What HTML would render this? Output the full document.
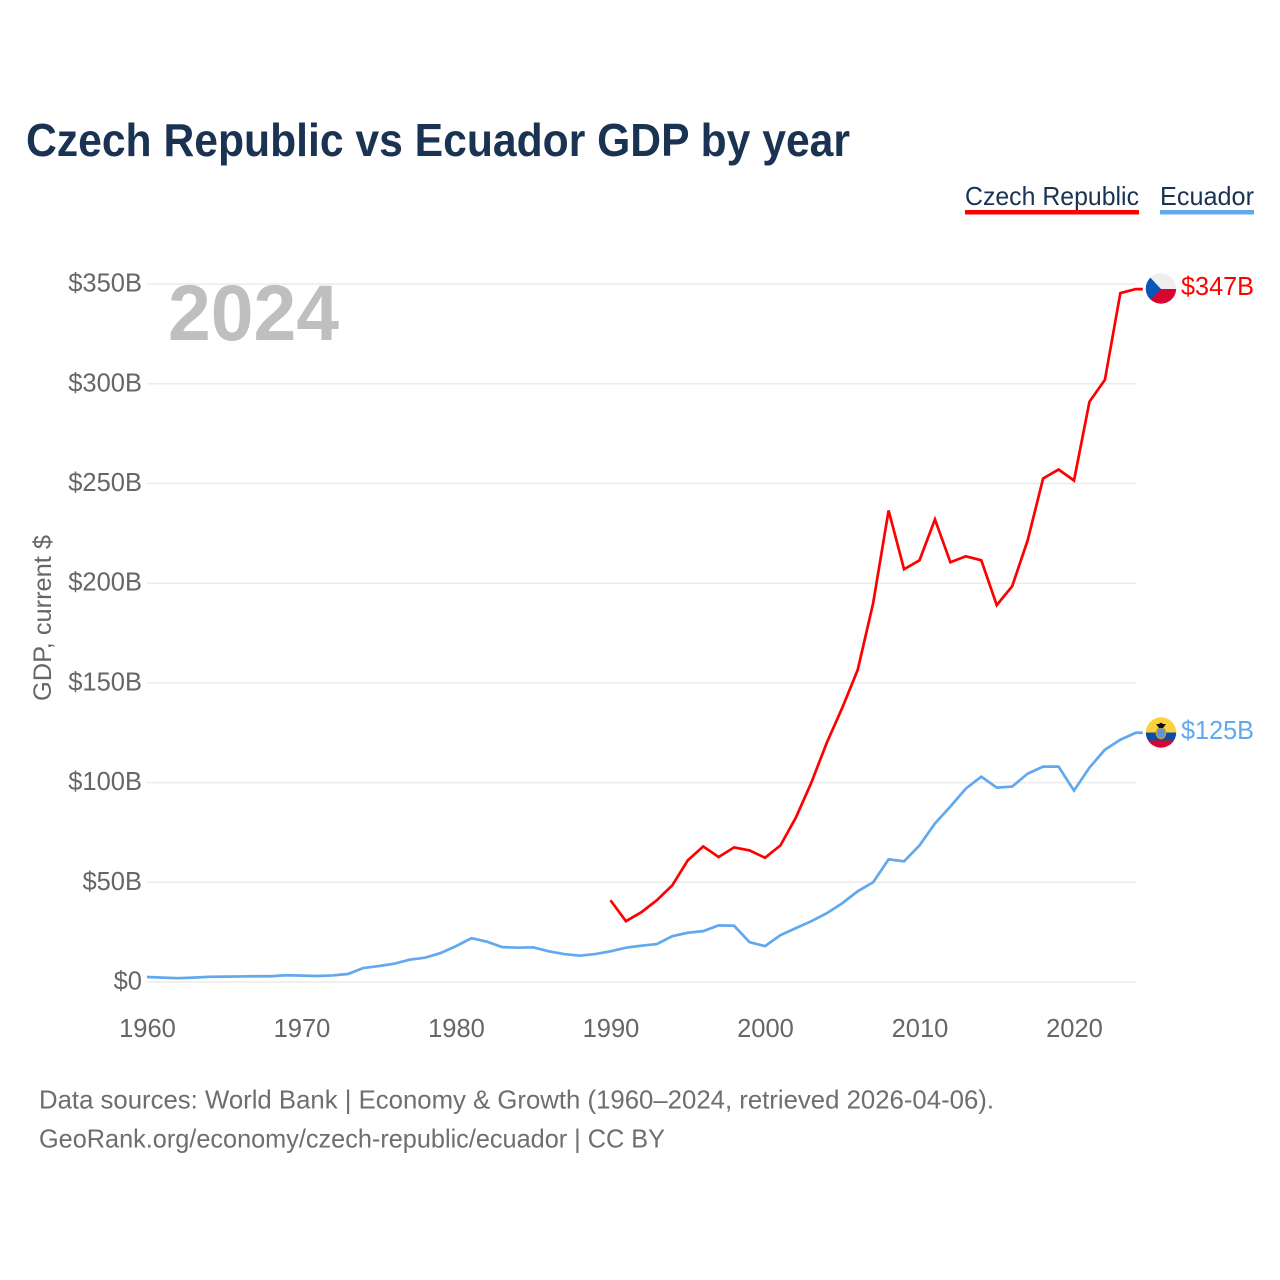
<!DOCTYPE html>
<html>
<head>
<meta charset="utf-8">
<title>Czech Republic vs Ecuador GDP by year</title>
<style>
html,body{margin:0;padding:0;background:#fff;}
svg{display:block;font-family:"Liberation Sans",sans-serif;}
</style>
</head>
<body>
<svg id="chart" width="1280" height="1280" viewBox="0 0 1280 1280" xmlns="http://www.w3.org/2000/svg">
  <defs>
    <clipPath id="flag-clip-cz"><circle cx="1161" cy="288.5" r="15.2"/></clipPath>
    <clipPath id="flag-clip-ec"><circle cx="1161" cy="732.5" r="15.2"/></clipPath>
  </defs>
  <rect width="1280" height="1280" fill="#fff"/>
  <text x="26" y="156" font-size="46" font-weight="700" fill="#1a3353" textLength="824" lengthAdjust="spacingAndGlyphs">Czech Republic vs Ecuador GDP by year</text>

  <g id="grid"></g>
  <g id="yticks"></g>
  <g id="xticks"></g>

  <text x="168" y="340" font-size="79" font-weight="700" fill="#bfbfbf" textLength="171" lengthAdjust="spacingAndGlyphs">2024</text>
  <text transform="translate(51,701) rotate(-90)" font-size="25" fill="#666" textLength="166" lengthAdjust="spacingAndGlyphs">GDP, current $</text>

  <g>
    <g>
      <text x="965" y="205" font-size="26" fill="#1a3353" textLength="174" lengthAdjust="spacingAndGlyphs">Czech Republic</text>
      <rect x="965" y="210" width="174" height="4.5" fill="#ff0000"/>
    </g>
    <g>
      <text x="1160" y="205" font-size="26" fill="#1a3353" textLength="94" lengthAdjust="spacingAndGlyphs">Ecuador</text>
      <rect x="1160" y="210" width="94" height="4.5" fill="#62a8ee"/>
    </g>
  </g>

  <g id="lines"></g>

  <g clip-path="url(#flag-clip-cz)">
    <rect x="1145" y="273" width="32" height="16" fill="#eeeeee"/>
    <rect x="1145" y="289" width="32" height="17" fill="#d7052f"/>
    <polygon points="1145,272 1161,289 1145,306" fill="#0b55b5"/>
  </g>
  <g clip-path="url(#flag-clip-ec)">
    <rect x="1145" y="717" width="32" height="16" fill="#fbd23e"/>
    <rect x="1145" y="732.5" width="32" height="8" fill="#0b4ea8"/>
    <rect x="1145" y="740.5" width="32" height="8" fill="#d7052f"/>
    <ellipse cx="1161" cy="733" rx="4.6" ry="5.6" fill="#5f94d8" stroke="#c9a227" stroke-width="1.4"/>
    <polygon points="1156,724 1166,724 1163,728 1159,728" fill="#111"/>
    <circle cx="1161" cy="724.5" r="1.8" fill="#111"/>
  </g>

  <text x="1181" y="295" font-size="25.5" fill="#ff0000" textLength="73" lengthAdjust="spacingAndGlyphs">$347B</text>
  <text x="1181" y="739" font-size="25.5" fill="#62a8ee" textLength="73" lengthAdjust="spacingAndGlyphs">$125B</text>

  <text x="39" y="1108.5" font-size="26" fill="#6e6e6e" textLength="955" lengthAdjust="spacingAndGlyphs">Data sources: World Bank | Economy &amp; Growth (1960–2024, retrieved 2026-04-06).</text>
  <text x="39" y="1147.5" font-size="26" fill="#6e6e6e" textLength="626" lengthAdjust="spacingAndGlyphs">GeoRank.org/economy/czech-republic/ecuador | CC BY</text>
</svg>
<script>
const yTickValues = [0, 50, 100, 150, 200, 250, 300, 350];
const yTickLabels = ['$0', '$50B', '$100B', '$150B', '$200B', '$250B', '$300B', '$350B'];
const xTickYears = [1960, 1970, 1980, 1990, 2000, 2010, 2020];
const xTickLabels = ['1960', '1970', '1980', '1990', '2000', '2010', '2020'];

const czechStartYear = 1990;
const czechValues = [41, 30.5, 35, 41, 48.5, 61, 68, 62.7, 67.5, 66, 62.3, 68.5, 82.5, 100, 120, 137.5, 156.5, 190, 236.5, 207, 211.5, 232, 210.5, 213.5, 211.5, 189, 198.5, 221.5, 252.5, 257, 251.5, 291, 302, 345.5, 347.5];

const ecuadorStartYear = 1960;
const ecuadorValues = [2.5, 2.2, 1.9, 2.2, 2.6, 2.7, 2.8, 2.9, 2.9, 3.4, 3.2, 3.0, 3.3, 4.0, 7.0, 8.0, 9.2, 11.2, 12.2, 14.5, 18, 22, 20.2, 17.5, 17.2, 17.4, 15.4, 14, 13.2, 14, 15.4, 17.2, 18.2, 19, 23, 24.7, 25.5, 28.4, 28.2, 20, 18, 23.5, 27, 30.5, 34.5, 39.5, 45.5, 50, 61.5, 60.5, 68.5, 79.5, 88, 97, 103, 97.5, 98, 104.5, 108, 108, 96, 107.5, 116.5, 121.5, 125];

const NS = 'http://www.w3.org/2000/svg';
function xScale(year) { return 147 + (year - 1960) * 15.45; }
function yScale(value) { return 982 - value * 1.994; }

const grid = document.getElementById('grid');
const yticks = document.getElementById('yticks');
const xticks = document.getElementById('xticks');
const lines = document.getElementById('lines');

yTickValues.forEach(function (v, i) {
  const line = document.createElementNS(NS, 'line');
  
  
  line.setAttribute('x1', 147);
  line.setAttribute('x2', 1136);
  line.setAttribute('y1', yScale(v));
  line.setAttribute('y2', yScale(v));
  line.setAttribute('stroke', '#ebebeb');
  line.setAttribute('stroke-width', '1.5');
  grid.appendChild(line);

  const label = document.createElementNS(NS, 'text');
  
  
  label.setAttribute('x', 142);
  label.setAttribute('y', yScale(v) + 7.5);
  label.setAttribute('text-anchor', 'end');
  label.setAttribute('font-size', '25.5');
  label.setAttribute('fill', '#666');
  label.textContent = yTickLabels[i];
  yticks.appendChild(label);
});

xTickYears.forEach(function (y, i) {
  const label = document.createElementNS(NS, 'text');
  
  
  label.setAttribute('x', xScale(y) + 0.5);
  label.setAttribute('y', 1037);
  label.setAttribute('text-anchor', 'middle');
  label.setAttribute('font-size', '25.5');
  label.setAttribute('fill', '#666');
  label.textContent = xTickLabels[i];
  xticks.appendChild(label);
});

function seriesPoints(values, startYear) {
  const pts = values.map(function (v, i) {
    return xScale(startYear + i).toFixed(2) + ',' + yScale(v).toFixed(2);
  });
  const last = values[values.length - 1];
  pts.push((xScale(startYear + values.length - 1) + 7).toFixed(2) + ',' + yScale(last).toFixed(2));
  return pts.join(' ');
}

const ecuadorLine = document.createElementNS(NS, 'polyline');


ecuadorLine.setAttribute('points', seriesPoints(ecuadorValues, ecuadorStartYear));
ecuadorLine.setAttribute('fill', 'none');
ecuadorLine.setAttribute('stroke', '#62a8ee');
ecuadorLine.setAttribute('stroke-width', '2.7');
lines.appendChild(ecuadorLine);

const czechLine = document.createElementNS(NS, 'polyline');


czechLine.setAttribute('points', seriesPoints(czechValues, czechStartYear));
czechLine.setAttribute('fill', 'none');
czechLine.setAttribute('stroke', '#ff0000');
czechLine.setAttribute('stroke-width', '2.7');
lines.appendChild(czechLine);
</script>
</body>
</html>
